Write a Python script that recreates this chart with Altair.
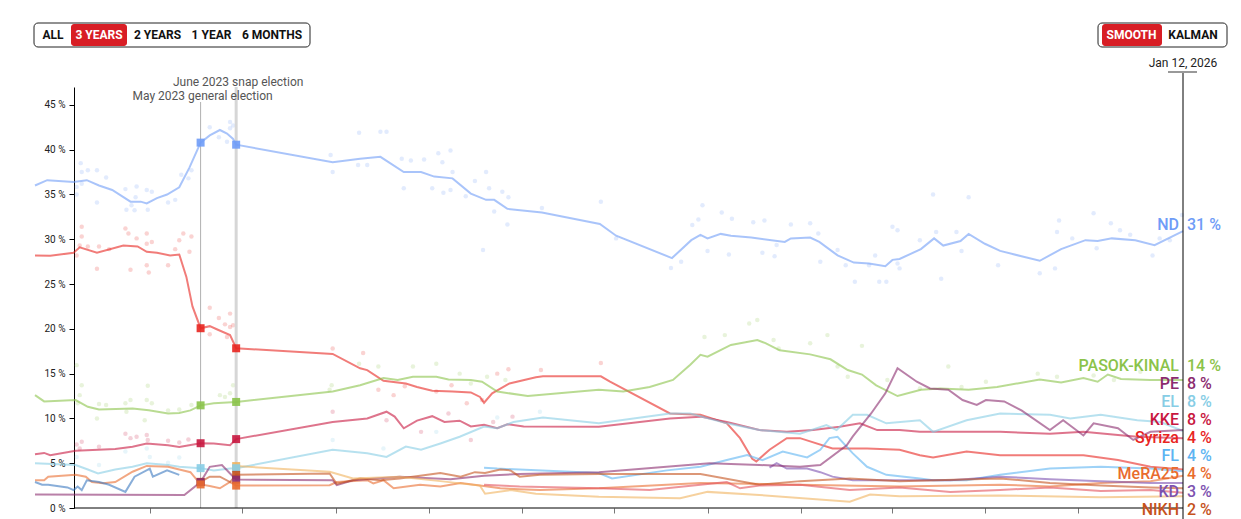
import altair as alt
import pandas as pd

# ---------------- smoothed trend lines: (date, %) ----------------
nd_line = [("2022-12-09",36.0),("2022-12-21",36.6),("2023-01-16",36.4),("2023-01-29",36.6),("2023-02-10",36.0),
    ("2023-02-23",35.5),("2023-03-13",34.2),("2023-03-23",34.2),("2023-03-29",34.0),("2023-04-08",34.6),
    ("2023-04-18",35.0),("2023-04-30",35.8),("2023-05-10",38.0),("2023-05-21",40.79),("2023-05-30",41.6),
    ("2023-06-09",42.2),("2023-06-16",41.8),("2023-06-22",41.2),("2023-06-25",40.56),("2023-09-28",38.6),
    ("2023-10-25",39.0),("2023-11-14",39.2),("2023-12-07",37.5),("2023-12-24",37.5),("2024-01-06",37.0),
    ("2024-01-24",36.8),("2024-02-11",35.1),("2024-02-26",34.4),("2024-03-05",34.4),("2024-03-18",33.4),
    ("2024-04-21",33.0),("2024-06-17",31.7),("2024-07-03",30.4),("2024-08-27",27.9),("2024-09-15",29.9),
    ("2024-09-24",30.5),("2024-10-01",30.1),("2024-10-14",30.6),("2024-10-24",30.4),("2024-11-13",30.2),
    ("2024-12-16",29.7),("2024-12-22",30.1),("2025-01-10",30.2),("2025-01-19",29.7),("2025-02-06",28.2),
    ("2025-02-22",27.4),("2025-03-09",27.3),("2025-03-25",27.0),("2025-04-01",27.7),("2025-04-08",27.8),
    ("2025-04-29",28.9),("2025-05-12",30.1),("2025-05-21",29.3),("2025-06-07",29.8),("2025-06-15",30.6),
    ("2025-07-01",29.5),("2025-07-16",28.7),("2025-08-24",27.6),("2025-09-14",28.9),("2025-10-08",29.9),
    ("2025-10-20",29.8),("2025-11-03",30.1),("2025-11-26",29.9),("2025-12-15",29.35),("2026-01-12",30.9)]

syriza_line = [("2022-12-09",28.2),("2022-12-24",28.15),("2023-01-16",28.5),("2023-01-22",29.1),("2023-02-08",28.5),
    ("2023-03-06",29.3),("2023-03-20",29.2),("2023-03-29",28.6),("2023-04-08",28.5),("2023-04-21",28.2),
    ("2023-04-30",28.3),("2023-05-07",25.8),("2023-05-13",22.5),("2023-05-21",20.07),("2023-05-30",20.3),
    ("2023-06-07",19.9),("2023-06-19",19.3),("2023-06-25",17.83),("2023-09-28",17.2),("2023-10-25",15.6),
    ("2023-11-01",15.4),("2023-11-17",14.2),("2023-12-09",13.9),("2023-12-20",13.5),("2024-01-04",13.1),
    ("2024-01-24",13.0),("2024-02-11",12.9),("2024-02-20",12.4),("2024-02-24",11.75),("2024-03-03",12.8),
    ("2024-03-20",13.9),("2024-04-15",14.6),("2024-04-22",14.7),("2024-06-18",14.7),("2024-06-27",14.1),
    ("2024-08-25",10.55),("2024-09-24",10.4),("2024-10-20",9.45),("2024-11-02",7.8),("2024-11-14",5.5),
    ("2024-11-18",5.2),("2024-12-01",6.5),("2024-12-18",7.8),("2024-12-31",7.8),("2025-02-01",6.65),
    ("2025-03-07",6.65),("2025-04-08",6.5),("2025-04-28",5.9),("2025-05-11",5.65),("2025-06-13",6.3),
    ("2025-07-16",5.9),("2025-09-16",5.9),("2025-10-06",5.9),("2025-11-09",5.35),("2025-12-11",4.6),
    ("2026-01-12",4.3)]

pasok_line = [("2022-12-09",12.6),("2022-12-18",11.9),("2023-01-18",12.05),("2023-01-30",11.3),("2023-02-10",11.0),
    ("2023-03-15",11.1),("2023-03-31",10.9),("2023-04-19",10.55),("2023-04-30",10.6),("2023-05-11",10.9),
    ("2023-05-21",11.46),("2023-06-03",11.7),("2023-06-25",11.84),("2023-09-28",13.0),("2023-10-25",13.7),
    ("2023-11-17",14.5),("2023-12-01",14.3),("2023-12-16",14.65),("2024-01-08",14.65),("2024-01-20",14.35),
    ("2024-02-11",14.3),("2024-02-22",14.1),("2024-03-08",13.0),("2024-04-07",12.5),("2024-06-16",13.2),
    ("2024-07-10",13.0),("2024-08-05",13.5),("2024-08-28",14.3),("2024-09-14",16.0),("2024-09-24",17.1),
    ("2024-10-01",16.9),("2024-10-24",18.2),("2024-11-19",18.75),("2024-11-27",18.4),("2024-12-11",17.6),
    ("2025-01-10",17.15),("2025-01-30",16.6),("2025-02-16",15.4),("2025-03-02",14.9),("2025-03-16",13.7),
    ("2025-04-06",12.5),("2025-04-29",13.2),("2025-05-18",13.35),("2025-06-15",13.2),("2025-07-13",13.5),
    ("2025-08-24",14.35),("2025-09-14",14.0),("2025-10-06",14.5),("2025-10-20",14.1),("2025-10-30",14.9),
    ("2025-11-12",14.4),("2025-12-11",14.3),("2026-01-12",14.3)]

kke_line = [("2022-12-09",6.0),("2022-12-18",6.15),("2022-12-24",5.9),("2023-01-18",6.4),("2023-02-26",6.6),
    ("2023-03-15",6.85),("2023-03-29",7.2),("2023-04-19",7.0),("2023-04-30",6.8),("2023-05-21",7.23),
    ("2023-06-03",7.2),("2023-06-19",7.0),("2023-06-25",7.69),("2023-09-28",9.6),("2023-11-01",10.0),
    ("2023-11-20",10.75),("2023-11-28",10.2),("2023-12-07",8.9),("2023-12-20",9.75),("2024-01-04",10.25),
    ("2024-01-16",9.6),("2024-01-31",9.75),("2024-02-11",9.1),("2024-02-24",9.3),("2024-03-08",8.9),
    ("2024-03-18",9.35),("2024-04-03",9.1),("2024-06-16",9.07),("2024-08-25",10.0),("2024-09-24",10.2),
    ("2024-10-20",9.6),("2024-11-21",8.7),("2024-12-18",8.5),("2025-01-13",8.7),("2025-02-08",9.07),
    ("2025-02-28",9.45),("2025-03-17",8.7),("2025-04-08",8.7),("2025-04-28",8.5),("2025-07-16",8.5),
    ("2025-09-03",8.3),("2025-10-06",8.5),("2025-11-09",8.15),("2025-11-28",7.95),("2026-01-12",7.8)]

el_line = [("2022-12-09",5.0),("2023-01-18",4.8),("2023-01-30",4.3),("2023-02-09",3.85),("2023-02-26",4.3),
    ("2023-03-15",4.6),("2023-03-29",5.0),("2023-04-19",4.8),("2023-04-30",4.6),("2023-05-21",4.45),
    ("2023-06-03",4.2),("2023-06-19",4.4),("2023-06-25",4.44),("2023-09-28",6.5),("2023-11-01",6.1),
    ("2023-11-20",5.7),("2023-12-09",6.85),("2023-12-24",6.5),("2024-01-12",7.2),("2024-01-31",7.95),
    ("2024-02-24",9.1),("2024-03-08",8.9),("2024-03-24",9.6),("2024-04-22",10.1),("2024-06-16",9.45),
    ("2024-08-25",10.55),("2024-09-14",10.55),("2024-10-20",9.45),("2024-11-21",8.7),("2024-12-31",8.3),
    ("2025-01-26",9.25),("2025-02-05",8.7),("2025-02-21",10.4),("2025-03-07",10.4),("2025-03-26",9.45),
    ("2025-04-28",9.8),("2025-05-11",8.5),("2025-06-13",9.8),("2025-07-16",10.55),("2025-09-03",10.4),
    ("2025-09-23",10.0),("2025-10-23",10.4),("2025-11-28",9.8),("2025-12-21",9.6),("2026-01-12",8.6)]

pe_line = [("2022-12-09",1.5),("2023-05-05",1.45),("2023-05-21",2.89),("2023-05-30",4.6),("2023-06-11",4.8),
    ("2023-06-19",3.85),("2023-06-25",3.17),("2023-09-28",3.1),("2023-10-02",2.55),("2023-10-18",3.1),
    ("2023-12-03",3.5),("2024-01-22",3.2),("2024-02-24",3.6),("2024-03-30",3.8),("2024-06-16",4.0),
    ("2024-10-03",5.0),("2024-11-21",4.8),("2024-12-31",4.6),("2025-01-20",4.8),("2025-02-15",7.0),
    ("2025-02-21",8.0),("2025-03-11",10.55),("2025-03-25",12.8),("2025-04-06",15.6),("2025-04-25",14.1),
    ("2025-05-08",13.35),("2025-05-26",13.2),("2025-06-09",12.05),("2025-06-23",11.5),("2025-07-02",12.05),
    ("2025-07-20",11.9),("2025-08-06",10.9),("2025-09-03",8.7),("2025-09-16",9.8),("2025-10-06",8.1),
    ("2025-10-16",9.45),("2025-11-09",8.9),("2025-11-24",7.6),("2025-12-11",8.5),("2026-01-12",8.7)]

fl_line = [("2024-02-24",4.5),("2024-03-08",4.4),("2024-06-16",3.9),("2024-06-29",3.3),("2024-08-22",4.2),
    ("2024-09-24",4.6),("2024-10-20",5.35),("2024-11-09",5.9),("2024-11-24",5.35),("2024-12-14",6.3),
    ("2025-01-07",5.65),("2025-01-20",6.5),("2025-01-29",7.8),("2025-02-06",7.95),("2025-02-21",6.1),
    ("2025-03-07",4.6),("2025-03-26",3.7),("2025-04-28",3.3),("2025-05-11",3.1),("2025-06-13",3.1),
    ("2025-07-16",3.7),("2025-09-03",4.4),("2025-10-23",4.6),("2025-12-11",4.4),("2026-01-12",4.1)]

mera_line = [("2022-12-09",3.1),("2022-12-18",3.1),("2022-12-22",3.5),("2023-01-18",3.7),("2023-01-28",3.5),
    ("2023-02-03",2.9),("2023-02-14",2.75),("2023-02-26",2.9),("2023-03-15",4.05),("2023-03-29",4.7),
    ("2023-04-19",4.6),("2023-04-30",4.3),("2023-05-11",4.0),("2023-05-21",2.63),("2023-05-30",2.45),
    ("2023-06-09",2.2),("2023-06-19",2.9),("2023-06-25",2.5),("2023-09-25",2.55),("2023-10-02",2.9),
    ("2023-11-01",3.1),("2023-11-07",2.75),("2023-11-17",3.1),("2023-11-27",2.2),("2023-12-23",2.6),
    ("2024-01-12",2.4),("2024-02-01",2.8),("2024-02-20",2.5),("2024-03-11",2.2),("2024-03-30",2.1),
    ("2024-04-19",2.0),("2024-06-16",2.2),("2024-09-24",2.8),("2024-12-31",2.6),("2025-04-08",2.4),
    ("2025-07-16",2.6),("2025-09-03",2.4),("2025-10-23",2.8),("2025-12-11",3.0),("2026-01-12",3.6)]

kd_line = [("2024-12-01",4.5),("2024-12-08",5.0),("2024-12-18",4.4),("2025-01-07",4.4),("2025-01-20",4.0),
    ("2025-02-01",3.5),("2025-02-21",3.1),("2025-04-08",3.1),("2025-05-28",3.1),("2025-07-16",3.5),
    ("2025-09-03",3.2),("2025-10-23",3.0),("2025-12-11",2.8),("2026-01-12",2.8)]

nikh_line = [("2023-05-21",2.92),("2023-05-30",3.5),("2023-06-09",3.5),("2023-06-19",2.9),("2023-06-25",3.70),
    ("2023-09-25",3.85),("2023-10-02",2.7),("2023-10-25",3.3),("2023-11-14",3.1),("2023-12-03",3.3),
    ("2023-12-23",3.6),("2024-01-12",3.9),("2024-02-01",3.5),("2024-02-15",4.0),("2024-02-25",3.9),
    ("2024-03-11",4.3),("2024-03-21",4.2),("2024-03-30",3.5),("2024-04-19",3.7),("2024-06-16",3.8),
    ("2024-09-24",3.8),("2024-11-21",2.6),("2024-12-31",3.0),("2025-02-18",3.3),("2025-04-08",3.0),
    ("2025-07-16",3.3),("2025-09-03",2.8),("2025-10-23",2.5),("2025-12-11",2.3),("2026-01-12",2.2)]

spartiates_line = [("2023-06-25",4.68),("2023-09-25",4.05),("2023-10-18",3.3),("2023-12-03",3.5),("2024-01-12",3.0),
    ("2024-02-20",2.5),("2024-02-25",1.6),("2024-03-21",2.0),("2024-04-15",1.6),("2024-06-16",1.25),
    ("2024-09-04",1.1),("2024-10-01",1.8),("2024-11-21",1.45),("2025-02-18",0.7),("2025-03-10",1.5),
    ("2025-04-08",1.3),("2025-07-16",1.4),("2025-10-23",1.2),("2026-01-12",1.3)]

newleft_line = [("2024-02-24",2.6),("2024-03-30",2.4),("2024-06-16",2.2),("2024-08-05",2.0),("2024-09-24",2.6),
    ("2024-10-20",2.9),("2024-11-02",2.2),("2024-11-21",2.5),("2024-12-31",2.6),("2025-02-18",2.0),
    ("2025-04-08",2.3),("2025-05-28",1.8),("2025-07-16",2.0),("2025-09-03",2.3),("2025-10-23",1.9),
    ("2025-12-11",2.0),("2026-01-12",1.7)]

other_line = [("2022-12-09",2.9),("2022-12-16",2.6),("2022-12-22",2.6),("2023-01-10",2.3),("2023-01-16",2.0),
    ("2023-01-20",2.4),("2023-01-24",2.0),("2023-01-29",3.1),("2023-02-10",2.9),("2023-02-20",2.6),
    ("2023-03-08",1.8),("2023-03-17",3.5),("2023-04-01",4.4),("2023-04-04",3.5),("2023-04-18",4.2),
    ("2023-04-30",3.7)]

# ---------------- individual polls (date, %) ----------------
nd_polls = [("2023-01-19",35.85),("2023-01-23",38.5),("2023-01-24",37.5),("2023-01-24",36.2),("2023-01-19",35.0),
    ("2023-01-30",37.7),("2023-02-08",37.7),("2023-02-08",34.1),("2023-02-17",36.9),("2023-03-08",35.6),
    ("2023-03-09",33.3),("2023-03-14",33.8),("2023-03-18",34.7),("2023-03-19",35.9),("2023-03-17",33.25),
    ("2023-03-29",35.5),("2023-03-30",33.3),("2023-04-03",35.3),("2023-04-19",34.1),("2023-04-26",34.4),
    ("2023-05-02",37.2),("2023-05-09",36.8),("2023-05-12",37.7),("2023-05-30",42.5),("2023-06-08",41.4),
    ("2023-06-19",43.1),("2023-06-19",42.4),("2023-06-16",40.9),("2023-06-22",42.7),("2023-09-26",39.4),
    ("2023-09-28",37.5),("2023-10-24",41.9),("2023-11-14",42.0),("2023-11-20",42.0),("2023-10-23",38.3),
    ("2023-11-01",38.3),("2023-12-05",39.0),("2023-12-14",38.8),("2023-12-07",35.7),("2023-12-27",38.9),
    ("2024-01-10",39.6),("2024-01-22",39.9),("2024-01-24",37.5),("2024-01-14",38.6),("2024-01-04",35.7),
    ("2024-01-15",35.2),("2024-01-22",35.5),("2024-02-06",34.8),("2024-02-15",36.5),("2024-02-26",37.5),
    ("2024-02-29",35.7),("2024-03-13",35.3),("2024-03-19",34.7),("2024-03-18",31.65),("2024-02-23",28.8),
    ("2024-03-05",33.1),("2024-04-21",33.5),("2024-06-18",34.2),("2024-07-03",30.1),("2024-08-26",26.8),
    ("2024-09-05",27.5),("2024-09-16",31.6),("2024-09-22",32.2),("2024-09-26",33.8),("2024-10-15",33.0),
    ("2024-10-25",32.3),("2024-10-01",28.7),("2024-10-22",28.3),("2024-11-15",31.9),("2024-11-26",32.1),
    ("2024-11-24",28.5),("2024-12-06",28.1),("2024-12-22",31.65),("2025-01-10",31.8),("2025-01-18",30.65),
    ("2025-01-20",27.5),("2024-12-08",29.35),("2025-02-06",28.8),("2025-02-14",27.1),("2025-02-23",25.25),
    ("2025-03-09",27.1),("2025-03-15",28.2),("2025-03-19",25.25),("2025-03-26",25.25),("2025-04-06",27.3),
    ("2025-04-01",31.4),("2025-04-06",31.0),("2025-04-08",26.75),("2025-04-28",29.9),("2025-05-14",30.8),
    ("2025-05-19",25.6),("2025-05-11",35.0),("2025-06-03",30.8),("2025-06-15",34.7),("2025-06-08",28.7),
    ("2025-07-14",27.1),("2025-08-24",26.2),("2025-09-08",26.75),("2025-09-12",32.1),("2025-09-10",30.8),
    ("2025-09-25",30.1),("2025-10-16",32.9),("2025-10-19",29.0),("2025-11-02",31.8),("2025-11-11",31.0),
    ("2025-11-21",30.5),("2025-12-13",28.2),("2025-12-20",30.1),("2025-12-30",29.9),("2026-01-11",32.7)]

syriza_polls = [("2023-01-19",28.2),("2023-01-24",31.4),("2023-01-24",30.3),("2023-01-22",29.3),("2023-01-30",29.2),
    ("2023-02-08",26.7),("2023-02-10",29.2),("2023-02-20",28.9),("2023-03-08",31.2),("2023-03-11",30.65),
    ("2023-03-13",26.6),("2023-03-19",30.1),("2023-03-29",30.65),("2023-03-29",29.5),("2023-03-29",27.1),
    ("2023-03-31",26.3),("2023-04-03",29.7),("2023-04-19",27.1),("2023-04-26",28.9),("2023-04-30",29.9),
    ("2023-05-04",30.65),("2023-05-12",30.3),("2023-05-10",28.6),("2023-05-30",22.35),("2023-05-30",19.4),
    ("2023-06-08",21.2),("2023-06-14",20.5),("2023-06-19",21.7),("2023-06-16",19.1),("2023-06-19",20.2),
    ("2023-06-22",20.4),("2023-09-28",17.8),("2023-10-28",17.3),("2023-11-12",13.2),("2023-11-27",12.6),
    ("2023-12-08",13.6),("2024-01-08",13.0),("2024-01-23",13.7),("2024-02-07",11.7),("2024-02-22",12.05),
    ("2024-03-08",15.0),("2024-03-19",15.5),("2024-04-20",15.4),("2024-06-18",16.2)]

pasok_polls = [("2023-01-19",15.95),("2023-01-22",12.6),("2023-01-24",13.7),("2023-01-20",11.7),("2023-02-10",11.6),
    ("2023-02-08",10.0),("2023-02-17",11.5),("2023-03-08",11.7),("2023-03-09",10.75),("2023-03-13",12.05),
    ("2023-03-29",12.05),("2023-03-27",9.8),("2023-03-30",13.65),("2023-04-03",11.7),("2023-04-19",10.9),
    ("2023-04-30",11.0),("2023-05-12",11.5),("2023-06-09",12.6),("2023-06-14",12.4),("2023-06-19",12.8),
    ("2023-06-22",13.7),("2023-09-25",13.2),("2023-09-27",13.7),("2023-10-24",16.1),("2023-11-12",15.8),
    ("2023-12-16",15.8),("2024-01-08",16.1),("2024-01-31",15.0),("2024-02-11",13.9),("2024-02-27",14.65),
    ("2024-03-16",14.3),("2024-09-28",19.1),("2024-10-18",19.3),("2024-11-11",20.6),("2024-11-19",21.0),
    ("2024-12-05",18.75),("2024-12-10",17.8),("2025-01-10",18.4),("2025-01-27",19.3),("2025-02-06",15.8),
    ("2025-02-16",14.65),("2025-03-02",18.1),("2025-03-27",14.3),("2025-04-28",13.35),("2025-05-26",15.8),
    ("2025-06-08",13.5),("2025-07-02",14.1),("2025-08-22",15.0),("2025-09-10",14.65),("2025-10-16",14.8),
    ("2025-11-05",14.3),("2025-12-01",15.2)]

kke_polls = [("2023-01-19",7.1),("2023-01-24",7.4),("2023-01-22",6.65),("2023-02-10",6.85),("2023-03-08",8.3),
    ("2023-03-13",7.8),("2023-03-19",7.95),("2023-03-29",8.15),("2023-03-30",7.6),("2023-04-19",7.5),
    ("2023-04-30",7.3),("2023-05-09",7.65),("2023-09-28",10.75),("2023-11-20",9.8),("2023-12-24",8.5),
    ("2024-01-20",10.55),("2024-02-11",7.6),("2024-03-04",9.6),("2024-03-23",10.2)]

el_polls = [("2023-01-19",5.7),("2023-02-10",4.8),("2023-03-08",6.3),("2023-03-29",6.65),("2023-04-01",5.7),
    ("2023-04-19",5.05),("2023-04-30",5.65),("2023-09-28",7.6),("2023-11-17",6.65),("2024-01-08",8.5),
    ("2024-03-08",10.1),("2024-04-19",10.75)]

# ---------------- election results ----------------
election_dates = ["2023-05-21", "2023-06-25"]
election_names = ["May 2023 general election", "June 2023 snap election"]
may_results = [("ND",40.79),("Syriza",20.07),("PASOK-KINAL",11.46),("KKE",7.23),("EL",4.45),
               ("NIKH",2.92),("PE",2.89),("MeRA25",2.63)]
june_results = [("ND",40.56),("Syriza",17.83),("PASOK-KINAL",11.84),("KKE",7.69),("Spartiates",4.68),
                ("EL",4.44),("NIKH",3.70),("PE",3.17),("MeRA25",2.50)]

# ---------------- end labels ----------------
label_parties = ["ND","PASOK-KINAL","PE","EL","KKE","Syriza","FL","MeRA25","KD","NIKH"]
label_values = [31, 14, 8, 8, 8, 4, 4, 4, 3, 2]
last_date = "2026-01-12"

parties = ["ND","Syriza","PASOK-KINAL","KKE","EL","FL","MeRA25","KD","PE","NIKH","Spartiates","New Left","Other"]
colors = ["#6f9cf7","#e8251f","#8bc34a","#c8173f","#87cde5","#5db4f2","#e96c2e","#7d52b0","#8b2b6e",
          "#c5521c","#f0b25e","#e2505a","#3a78c0"]

lines = {"ND": nd_line, "Syriza": syriza_line, "PASOK-KINAL": pasok_line, "KKE": kke_line, "EL": el_line,
         "FL": fl_line, "MeRA25": mera_line, "KD": kd_line, "PE": pe_line, "NIKH": nikh_line,
         "Spartiates": spartiates_line, "New Left": newleft_line, "Other": other_line}
polls = {"ND": nd_polls, "Syriza": syriza_polls, "PASOK-KINAL": pasok_polls, "KKE": kke_polls, "EL": el_polls}


def long(d):
    rows = []
    for p, pts in d.items():
        for dt, v in pts:
            rows.append({"party": p, "date": dt, "value": v})
    return pd.DataFrame(rows)


line_df = long(lines)
poll_df = long(polls)
res_rows = [{"party": p, "date": election_dates[0], "value": v} for p, v in may_results] + \
           [{"party": p, "date": election_dates[1], "value": v} for p, v in june_results]
res_df = pd.DataFrame(res_rows)

W, H, YMAX = 1148, 421, 47
FONT = "Roboto"

# label de-collision (pixel space), 18px apart, not lower than the bottom bound
def px(v):
    return H * (1 - v / YMAX)

pos = [px(v) for v in label_values]
for _ in range(600):
    for i in range(1, len(pos)):
        gap = pos[i] - pos[i - 1]
        if gap < 18:
            d = (18 - gap) / 2
            pos[i - 1] -= d
            pos[i] += d
    pos = [min(p, 428) for p in pos]
lab_df = pd.DataFrame({
    "party": label_parties,
    "date": [last_date] * len(label_parties),
    "yv": [YMAX * (1 - p / H) for p in pos],
    "vtxt": [f"{v} %" for v in label_values],
})

xscale = alt.Scale(type="utc",
                   domain=[alt.DateTime(year=2022, month=12, date=9, utc=True),
                           alt.DateTime(year=2026, month=1, date=12, utc=True)])
yscale = alt.Scale(domain=[0, YMAX], nice=False, zero=False)
cscale = alt.Scale(domain=parties, range=colors)

tick_dates = [alt.DateTime(year=y, month=m, date=1, utc=True)
              for y, m in [(2023,4),(2023,7),(2023,10),(2024,1),(2024,4),(2024,7),(2024,10),
                           (2025,1),(2025,4),(2025,7),(2025,10)]]

X = alt.X("date:T", scale=xscale, title=None,
          axis=alt.Axis(values=tick_dates, domain=False, labels=False, grid=False,
                        tickSize=5, tickColor="#777"))
Y = alt.Y("value:Q", scale=yscale, title=None,
          axis=alt.Axis(values=[0,5,10,15,20,25,30,35,40,45], labelExpr="datum.value + ' %'",
                        offset=-39, grid=False, domainColor="#000", tickColor="#000", tickSize=5,
                        labelFont=FONT, labelFontSize=10, labelColor="#222", labelPadding=4))
C = alt.Color("party:N", scale=cscale, legend=None)

dots = alt.Chart(poll_df).mark_circle(size=20, opacity=0.2).encode(x=X, y=Y, color=C)
trend = alt.Chart(line_df).mark_line(strokeWidth=2, opacity=0.6).encode(x=X, y=Y, color=C, detail="party:N")
squares = alt.Chart(res_df).mark_square(size=64, opacity=0.9).encode(x=X, y=Y, color=C)

el_df = pd.DataFrame({"date": election_dates, "name": election_names})
may_rule = alt.Chart(el_df.iloc[[0]]).mark_rule(color="#b0b0b0", strokeWidth=1).encode(
    x=X, y=alt.value(15), y2=alt.value(H))
june_rule = alt.Chart(el_df.iloc[[1]]).mark_rule(color="#d6d6d6", strokeWidth=3).encode(
    x=X, y=alt.value(0), y2=alt.value(H))
may_txt = alt.Chart(el_df.iloc[[0]]).mark_text(font=FONT, fontSize=12, color="#555", dx=2,
                                               baseline="middle").encode(x=X, y=alt.value(9), text="name:N")
june_txt = alt.Chart(el_df.iloc[[1]]).mark_text(font=FONT, fontSize=12, color="#555", dx=2,
                                                baseline="middle").encode(x=X, y=alt.value(-5), text="name:N")

dummy = pd.DataFrame({"a": [0]})
today_df = pd.DataFrame({"date": [last_date], "txt": ["Jan 12, 2026"]})
x_base = alt.Chart(dummy).mark_rule(color="#000", strokeWidth=1).encode(
    x=alt.value(39), x2=alt.value(W), y=alt.value(H))
today_rule = alt.Chart(today_df).mark_rule(color="#000", strokeWidth=1).encode(
    x=X, y=alt.value(-15), y2=alt.value(H + 20))
today_bar = alt.Chart(dummy).mark_rule(color="#999", strokeWidth=2).encode(
    x=alt.value(W - 15), x2=alt.value(W + 14), y=alt.value(-15))
today_txt = alt.Chart(today_df).mark_text(font=FONT, fontSize=12, color="#222", baseline="middle").encode(
    x=X, y=alt.value(-24), text="txt:N")

name_lab = alt.Chart(lab_df).mark_text(font=FONT, fontSize=16, fontWeight=500, align="right", dx=-4,
                                       baseline="alphabetic").encode(
    x=X, y=alt.Y("yv:Q", scale=yscale), text="party:N", color=C)
val_lab = alt.Chart(lab_df).mark_text(font=FONT, fontSize=16, fontWeight=500, align="left", dx=4,
                                      baseline="alphabetic").encode(
    x=X, y=alt.Y("yv:Q", scale=yscale), text="vtxt:N", color=C)


def box(x1, x2, y1, y2, **kw):
    return alt.Chart(dummy).mark_rect(**kw).encode(
        x=alt.value(x1), x2=alt.value(x2), y=alt.value(y1), y2=alt.value(y2))


def btn(s, x, y, color):
    return alt.Chart(dummy).mark_text(font=FONT, fontSize=12, fontWeight="bold", color=color,
                                      baseline="middle").encode(
        x=alt.value(x), y=alt.value(y), text=alt.value(s))


range_buttons = ["ALL", "3 YEARS", "2 YEARS", "1 YEAR", "6 MONTHS"]
range_x = [18, 64, 122.5, 176.5, 237]
mode_buttons = ["SMOOTH", "KALMAN"]
mode_x = [1096.5, 1158]

ui = [box(-1, 275, -64, -40, fill="white", stroke="#222", strokeWidth=1, cornerRadius=4),
      box(36, 92, -63, -41, fill="#d81e25", cornerRadius=3),
      box(1063, 1192, -64, -40, fill="white", stroke="#222", strokeWidth=1, cornerRadius=4),
      box(1067, 1127, -63, -41, fill="#d81e25", cornerRadius=3)]
for s, x in zip(range_buttons, range_x):
    ui.append(btn(s, x, -52, "white" if s == "3 YEARS" else "#111"))
for s, x in zip(mode_buttons, mode_x):
    ui.append(btn(s, x, -52, "white" if s == "SMOOTH" else "#111"))

chart = alt.layer(
    dots, june_rule, may_rule, trend, squares, x_base, today_rule, today_bar, today_txt,
    may_txt, june_txt, name_lab, val_lab, *ui
).properties(
    width=W, height=H,
    padding={"left": 27, "top": 79, "right": 50, "bottom": 11},
    autosize=alt.AutoSizeParams(type="none"),
    background="white",
).configure_view(strokeWidth=0)

chart.save("out.html", embed_options={"renderer": "svg", "actions": False})
